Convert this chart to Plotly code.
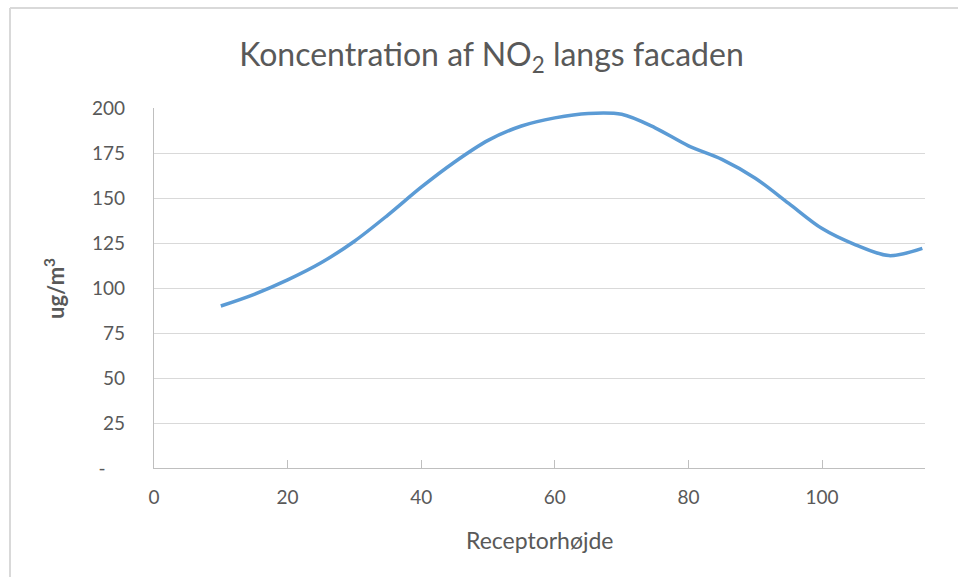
import plotly.graph_objects as go

# Receptor height (m) and NO2 concentration (ug/m3)
receptor_height = [10, 15, 20, 25, 30, 35, 40, 45, 50, 55, 60, 65, 70,
                   75, 80, 85, 90, 95, 100, 105, 110, 115]
no2_conc = [90, 96.5, 104.5, 114, 126, 140.5, 156, 170, 182, 190, 194.5, 197,
            196.5, 189, 179, 171.5, 161, 147, 133, 124, 118, 122]

y_ticks = [0, 25, 50, 75, 100, 125, 150, 175, 200]
y_ticktext = ["-\u00a0\u00a0\u00a0\u00a0"] + [str(v) for v in y_ticks[1:]]
x_ticks = [0, 20, 40, 60, 80, 100]

W, H = 958, 577
L, R, T, B = 154, 33, 108, 109
pw, ph = W - L - R, H - T - B

FONT = "Lato, 'Open Sans', sans-serif"
TXT = "#595959"

def px_x(px):
    return (px - L) / pw

def px_y(py):
    return (H - B - py) / ph

fig = go.Figure()
fig.add_trace(go.Scatter(
    x=receptor_height, y=no2_conc, mode="lines",
    line=dict(color="#5B9BD5", width=3.5, shape="spline", smoothing=0.9),
    showlegend=False, hoverinfo="x+y",
))

fig.update_layout(
    width=W, height=H,
    margin=dict(l=L, r=R, t=T, b=B),
    paper_bgcolor="white", plot_bgcolor="white",
    font=dict(family=FONT, color=TXT, size=19),
    title=dict(
        text="Koncentration af NO<sub>2</sub> langs facaden",
        x=491.5 / W, xref="container", xanchor="center",
        y=1 - 55 / H, yref="container", yanchor="middle",
        font=dict(family=FONT, size=32, color=TXT),
    ),
    xaxis=dict(
        range=[0, 115.4], tickvals=x_ticks, showgrid=False, zeroline=False,
        showline=True, linecolor="#BFBFBF", linewidth=1.3,
        ticks="inside", ticklen=8, tickcolor="#BFBFBF", tickwidth=1,
        ticklabelstandoff=12, tickfont=dict(size=19, color=TXT),
    ),
    yaxis=dict(
        range=[0, 200], tickvals=y_ticks, ticktext=y_ticktext,
        showgrid=True, gridcolor="#D9D9D9", gridwidth=1.3, zeroline=False,
        showline=True, linecolor="#BFBFBF", linewidth=1.3,
        ticks="", ticklabelstandoff=24, tickfont=dict(size=19, color=TXT),
    ),
    annotations=[
        dict(text="Receptorhøjde", xref="paper", yref="paper",
             x=0.5, y=px_y(540), xanchor="center", yanchor="middle",
             showarrow=False, font=dict(family=FONT, size=23, color=TXT)),
        dict(text="<b>ug/m<sup>3</sup></b>", xref="paper", yref="paper",
             x=px_x(54), y=0.5, xanchor="center", yanchor="middle",
             textangle=-90, showarrow=False,
             font=dict(family=FONT, size=22, color=TXT)),
    ],
    shapes=[
        # chart-area border (top and left edges)
        dict(type="line", xref="paper", yref="paper",
             x0=px_x(10), x1=px_x(W + 5), y0=px_y(8), y1=px_y(8),
             line=dict(color="#D9D9D9", width=2)),
        dict(type="line", xref="paper", yref="paper",
             x0=px_x(10), x1=px_x(10), y0=px_y(8), y1=px_y(H + 5),
             line=dict(color="#D9D9D9", width=2)),
    ],
)

fig.write_html("out.html")
